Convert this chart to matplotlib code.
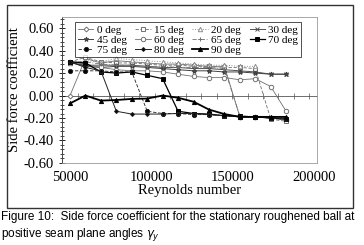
import numpy as np
import matplotlib
matplotlib.use("Agg")
import matplotlib.pyplot as plt
from matplotlib.patches import Rectangle

# Reynolds numbers of the measurement points
reynolds = [50000, 59500, 69000, 78500, 88000, 97500, 107000, 116500,
            126000, 135500, 145000, 154500, 164000, 173500, 183000]

nan = np.nan
cf_0 = [0.00, 0.33, 0.29, 0.31, 0.30, 0.29, 0.28, 0.28, 0.27, 0.26, 0.26, -0.19, -0.19, -0.20, -0.22]
cf_15 = [0.30, 0.34, 0.30, 0.29, 0.29, 0.28, 0.27, 0.27, 0.26, 0.26, 0.25, 0.25, 0.24, -0.21, -0.23]
cf_20 = [0.29, 0.31, 0.30, 0.33, 0.32, 0.31, 0.30, 0.29, 0.28, 0.27, 0.27, 0.26, 0.26, nan, nan]
cf_30 = [0.29, 0.27, 0.27, 0.27, 0.27, 0.26, 0.25, 0.25, 0.24, 0.24, 0.23, 0.22, 0.21, 0.19, 0.19]
cf_45 = [0.30, 0.26, 0.25, 0.26, 0.26, 0.25, 0.24, 0.23, 0.22, 0.22, 0.21, 0.21, 0.20, 0.19, 0.19]
cf_60 = [0.30, 0.28, 0.25, 0.23, 0.22, 0.22, 0.21, 0.19, 0.17, 0.16, 0.16, 0.14, 0.15, 0.08, -0.14]
cf_65 = [0.30, 0.30, 0.28, 0.27, 0.27, 0.26, 0.26, 0.25, 0.25, 0.25, 0.24, -0.18, -0.19, -0.20, -0.21]
cf_70 = [0.30, 0.29, 0.21, 0.20, 0.21, 0.18, 0.15, -0.14, -0.16, -0.165, -0.18, -0.185, -0.19, -0.20, -0.21]
cf_75 = [0.22, 0.22, 0.22, 0.21, 0.21, -0.14, -0.16, -0.16, -0.17, -0.17, -0.18, -0.19, -0.19, -0.20, -0.21]
cf_80 = [0.30, 0.25, 0.22, -0.14, -0.165, -0.165, -0.165, -0.16, -0.16, -0.17, -0.18, -0.19, -0.19, -0.20, -0.20]
cf_90 = [-0.07, 0.00, -0.045, -0.04, -0.03, -0.027, 0.00, -0.02, -0.055, -0.125, -0.165, -0.19, -0.19, -0.19, -0.19]

labels = ["0 deg", "15 deg", "20 deg", "30 deg", "45 deg", "60 deg",
          "65 deg", "70 deg", "75 deg", "80 deg", "90 deg"]
series = [cf_0, cf_15, cf_20, cf_30, cf_45, cf_60, cf_65, cf_70, cf_75, cf_80, cf_90]

# marker, face, line style, line colour, line width, marker size
styles = [
    ("D", "white", "-", "#707070", 0.6, 2.5),
    ("s", "white", (0, (4, 2)), "#707070", 0.6, 3.0),
    ("^", "white", ":", "#909090", 0.7, 3.2),
    ("x", "none", "-", "#505050", 0.7, 3.5),
    ("*", "#505050", "-", "#404040", 0.7, 3.5),
    ("o", "white", "-", "#707070", 0.6, 3.2),
    ("+", "none", (0, (5, 2, 1, 2)), "#707070", 0.6, 3.5),
    ("s", "black", "-", "black", 0.9, 3.2),
    ("o", "black", (0, (4, 2)), "#202020", 0.6, 3.0),
    ("D", "black", "-", "#202020", 0.7, 2.0),
    ("^", "black", "-", "black", 1.3, 3.0),
]

SERIF = ["Liberation Serif", "DejaVu Serif"]
SANS = ["Liberation Sans", "DejaVu Sans"]

fig = plt.figure(figsize=(3.64, 2.45), dpi=100, facecolor="white")
ax = fig.add_axes([0.170, 0.335, 0.701, 0.596])

handles = []
for vals, lab, (mk, face, ls, col, lw, ms) in zip(series, labels, styles):
    line, = ax.plot(reynolds, vals, linestyle=ls, color=col, linewidth=lw, marker=mk,
                    markersize=ms, markerfacecolor=face, markeredgecolor=col,
                    markeredgewidth=0.7, label=lab, zorder=3)
    handles.append(line)

ax.set_xlim(45000, 202000)
ax.set_ylim(-0.6, 0.7)
major_y = np.arange(-0.6, 0.61, 0.2)
ax.set_yticks(major_y)
ax.set_yticks(np.arange(-0.6, 0.70, 0.04), minor=True)
ax.set_yticklabels([f"{v:.2f}" for v in major_y])
ax.set_xticks([50000, 100000, 150000, 200000])
ax.set_xticklabels(["50000", "100000", "150000", "200000"])
ax.tick_params(axis="x", length=0, pad=6, labelsize=10.5)
ax.tick_params(axis="y", which="major", direction="inout", length=5, width=0.6, labelsize=10.5, pad=3)
ax.tick_params(axis="y", which="minor", direction="inout", length=3, width=0.5)
for lbl in ax.get_xticklabels() + ax.get_yticklabels():
    lbl.set_family(SERIF)

for side in ["top", "right", "bottom"]:
    ax.spines[side].set_color("#9a9a9a")
    ax.spines[side].set_linewidth(0.6)
ax.spines["left"].set_color("#444444")
ax.spines["left"].set_linewidth(0.7)

# horizontal axis line drawn where y = 0, with its tick marks
zero = ax.secondary_xaxis(0.6 / 1.3)
zero.set_xticks(np.arange(54750, 202000, 9500))
zero.tick_params(direction="inout", length=4, width=0.5, color="#555555", labelbottom=False)
zero.set_xticklabels([])
zero.spines["bottom"].set_color("#555555")
zero.spines["bottom"].set_linewidth(0.6)

ax.set_xlabel("Reynolds number", family=SERIF, fontsize=10.5, labelpad=0)
ax.set_ylabel("Side force coefficient", family=SERIF, fontsize=10.5, labelpad=2)

# legend reads row by row: reorder for matplotlib's column filling
order = [0, 4, 8, 1, 5, 9, 2, 6, 10, 3, 7]
leg = ax.legend([handles[i] for i in order], [labels[i] for i in order],
                ncol=4, loc="upper left", bbox_to_anchor=(0.03, 1.0),
                prop={"family": SERIF, "size": 8}, frameon=True, fancybox=False,
                handlelength=1.4, handletextpad=0.3, columnspacing=0.75,
                labelspacing=0.0, borderpad=0.25)
leg.get_frame().set_edgecolor("black")
leg.get_frame().set_linewidth(0.6)

# outer frame around the chart
fig.patches.append(Rectangle((7 / 364, 1 - 208 / 245), 346 / 364, 203 / 245,
                             transform=fig.transFigure, fill=False,
                             edgecolor="#333333", linewidth=1.0))

fig.text(0.003, 1 - 217 / 245, "Figure 10:  Side force coefficient for the stationary roughened ball at",
         family=SANS, fontsize=8.5, va="center", ha="left")
fig.text(0.003, 1 - 234 / 245, r"positive seam plane angles $\gamma_y$",
         family=SANS, fontsize=8.5, va="center", ha="left")

fig.savefig("out.png", dpi=100)
